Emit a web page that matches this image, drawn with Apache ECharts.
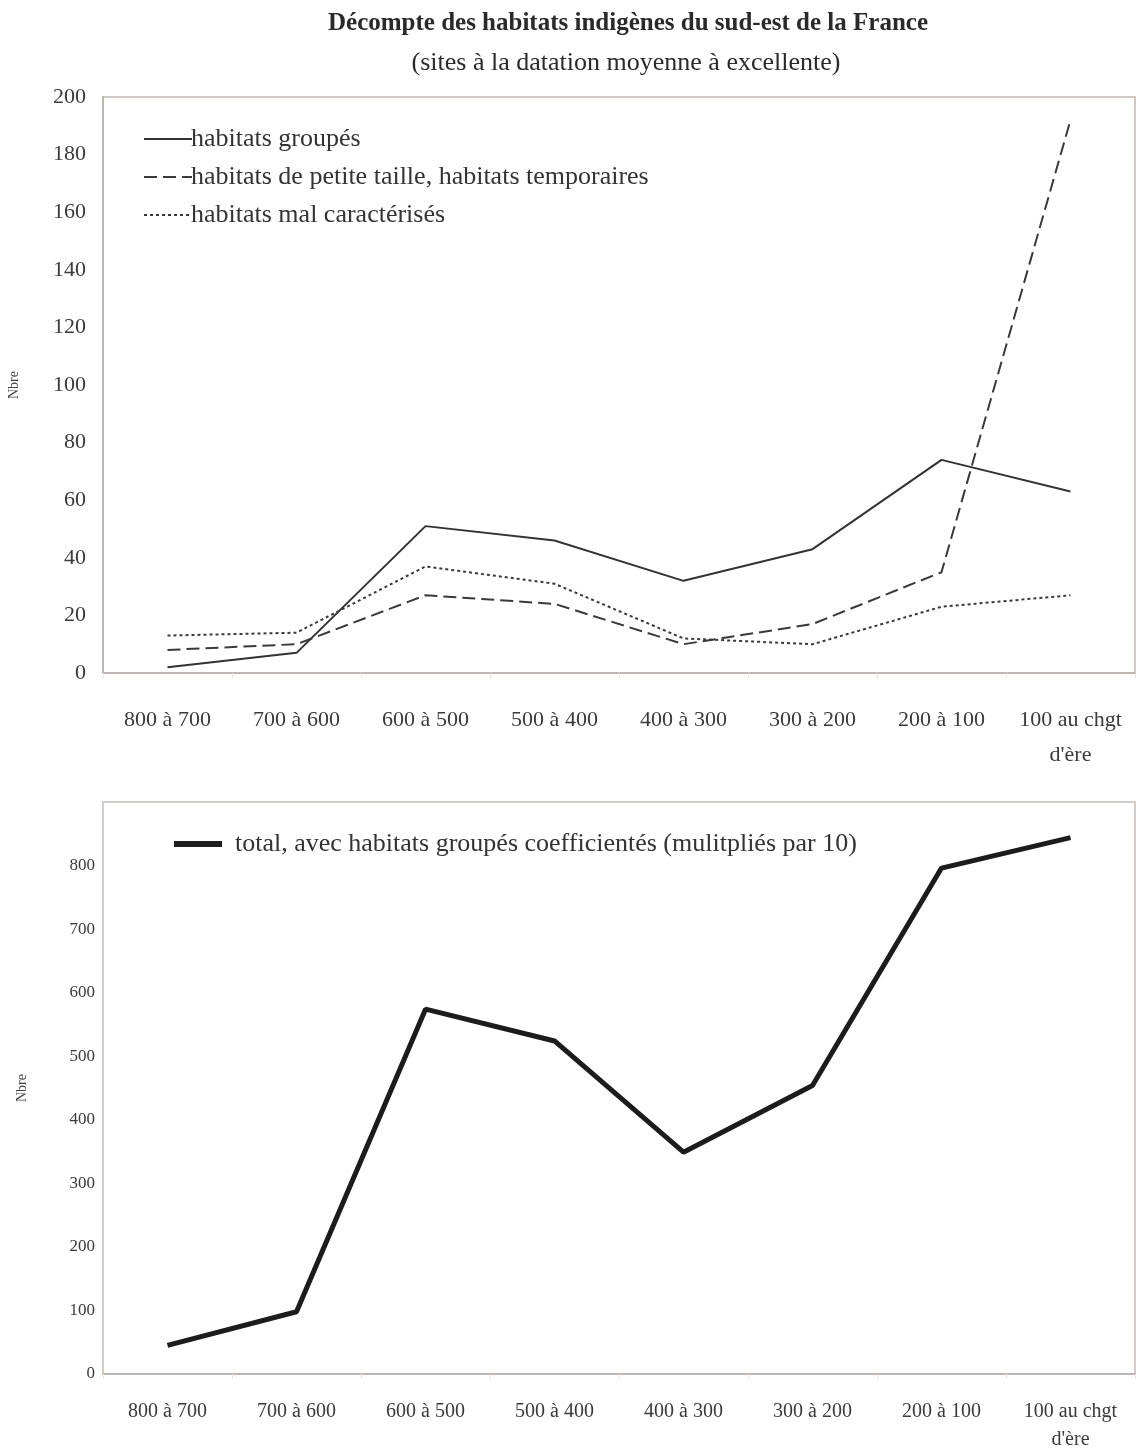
<!DOCTYPE html>
<html>
<head>
<meta charset="utf-8">
<script src="https://cdn.jsdelivr.net/npm/echarts@6/dist/echarts.min.js"></script>
<style>
html,body{margin:0;padding:0;background:#fff;}
#c{width:1137px;height:1450px;}
</style>
</head>
<body>
<div id="c"></div>
<script>
const categories = ["800 à 700","700 à 600","600 à 500","500 à 400","400 à 300","300 à 200","200 à 100","100 au chgt\nd'ère"];
const groupes = [2, 7, 51, 46, 32, 43, 74, 63];
const petite = [8, 10, 27, 24, 10, 17, 35, 192];
const mal = [13, 14, 37, 31, 12, 10, 23, 27];
const total = [45, 98, 574, 524, 349, 454, 796, 844];
const topTicks = [0, 20, 40, 60, 80, 100, 120, 140, 160, 180, 200];
const bottomTicks = [0, 100, 200, 300, 400, 500, 600, 700, 800];

const serif = "'Liberation Serif','DejaVu Serif',serif";
const chart = echarts.init(document.getElementById('c'));
const axisCommonX = {
  type: 'category',
  boundaryGap: true,
  data: categories,
  axisLine: {lineStyle: {color: '#bdb6b3', width: 2}},
  axisTick: {show: true, length: 5, lineStyle: {color: '#e6e6e6'}},
  splitLine: {show: false}
};
chart.setOption({
  animation: false,
  title: [
    {text: 'Décompte des habitats indigènes du sud-est de la France', left: 623, top: 6, textAlign: 'center',
     textStyle: {fontFamily: serif, fontSize: 25, fontWeight: 'bold', color: '#2a2a2a'}},
    {text: '(sites à la datation moyenne à excellente)', left: 621, top: 45, textAlign: 'center',
     textStyle: {fontFamily: serif, fontSize: 26, fontWeight: 'normal', color: '#2a2a2a'}}
  ],
  legend: [
    {orient: 'vertical', left: 138, top: 121, itemWidth: 48, itemHeight: 14, itemGap: 12,
     itemStyle: {opacity: 0},
     data: ['habitats groupés', 'habitats de petite taille, habitats temporaires', 'habitats mal caractérisés'],
     textStyle: {fontFamily: serif, fontSize: 26, lineHeight: 26, color: '#333', padding: [0,0,0,-6]}},
    {orient: 'horizontal', left: 166, top: 826, itemWidth: 48, itemHeight: 14,
     itemStyle: {opacity: 0},
     lineStyle: {width: 6, color: '#1c1c1c'},
     data: ['total, avec habitats groupés coefficientés (mulitpliés par 10)'],
     textStyle: {fontFamily: serif, fontSize: 26, lineHeight: 26, color: '#333', padding: [0,0,0,8]}}
  ],
  grid: [
    {left: 103, top: 97, width: 1032, height: 576, show: true, borderColor: '#cfc9c6', borderWidth: 2,
     backgroundColor: 'transparent', outerBoundsMode: 'none', containLabel: false},
    {left: 103, top: 802, width: 1032, height: 572, show: true, borderColor: '#d3cdca', borderWidth: 2,
     backgroundColor: 'transparent', outerBoundsMode: 'none', containLabel: false}
  ],
  xAxis: [
    Object.assign({gridIndex: 0}, axisCommonX, {
      axisLabel: {fontFamily: serif, fontSize: 22, color: '#3a3a3a', margin: 30, lineHeight: 35, interval: 0}
    }),
    Object.assign({gridIndex: 1}, axisCommonX, {
      axisLabel: {fontFamily: serif, fontSize: 20, color: '#3a3a3a', margin: 24, lineHeight: 28, interval: 0}
    })
  ],
  yAxis: [
    {gridIndex: 0, type: 'value', min: topTicks[0], max: topTicks[topTicks.length-1], interval: topTicks[1]-topTicks[0],
     name: 'Nbre', nameLocation: 'middle', nameGap: 82, nameRotate: 90,
     nameTextStyle: {fontFamily: serif, fontSize: 14, color: '#444'},
     axisLine: {show: true, lineStyle: {color: '#bdb6b3', width: 2}}, axisTick: {show: false},
     splitLine: {show: false},
     axisLabel: {fontFamily: serif, fontSize: 22, color: '#3a3a3a', margin: 17}},
    {gridIndex: 1, type: 'value', min: 0, max: 900, interval: 100,
     name: 'Nbre', nameLocation: 'middle', nameGap: 74, nameRotate: 90,
     nameTextStyle: {fontFamily: serif, fontSize: 14, color: '#444'},
     axisLine: {show: true, lineStyle: {color: '#d3cdca', width: 2}}, axisTick: {show: false},
     splitLine: {show: false},
     axisLabel: {fontFamily: serif, fontSize: 17, color: '#3a3a3a', margin: 8, showMaxLabel: false,
       formatter: v => bottomTicks.indexOf(v) >= 0 ? String(v) : ''}}
  ],
  series: [
    {name: 'habitats groupés', type: 'line', xAxisIndex: 0, yAxisIndex: 0, data: groupes,
     symbol: 'none', lineStyle: {color: '#333', width: 2, type: 'solid'}, itemStyle: {color: '#333'}},
    {name: 'habitats de petite taille, habitats temporaires', type: 'line', xAxisIndex: 0, yAxisIndex: 0, data: petite,
     symbol: 'none', lineStyle: {color: '#3a3a3a', width: 2, type: [13, 6]}, itemStyle: {color: '#3a3a3a'}},
    {name: 'habitats mal caractérisés', type: 'line', xAxisIndex: 0, yAxisIndex: 0, data: mal,
     symbol: 'none', lineStyle: {color: '#3a3a3a', width: 2, type: [3, 3]}, itemStyle: {color: '#3a3a3a'}},
    {name: 'total, avec habitats groupés coefficientés (mulitpliés par 10)', type: 'line', xAxisIndex: 1, yAxisIndex: 1, data: total,
     symbol: 'none', lineStyle: {color: '#1c1c1c', width: 5}, itemStyle: {color: '#1c1c1c'}}
  ]
});
</script>
</body>
</html>
